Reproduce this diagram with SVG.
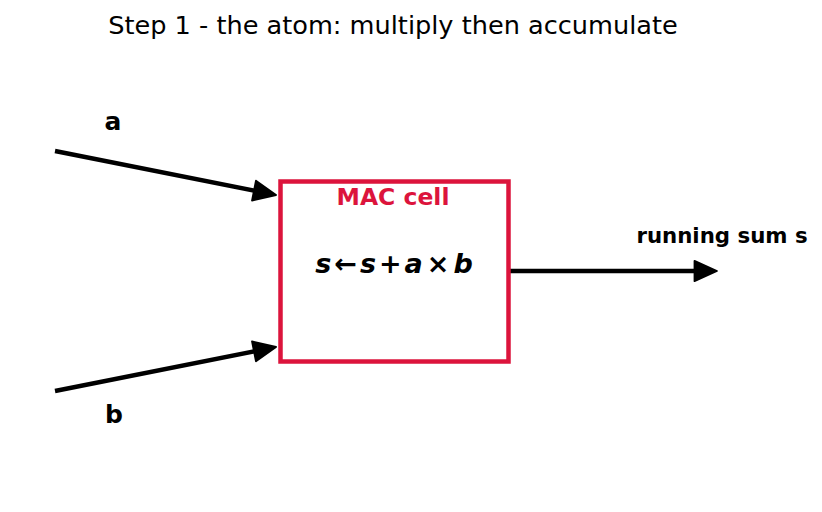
<svg xmlns="http://www.w3.org/2000/svg" width="822" height="512" viewBox="0 0 822 512">
<defs>
<marker id="ah" viewBox="-1 -1 12 11" refX="4" refY="4.5" markerWidth="6" markerHeight="5.5" orient="auto" markerUnits="strokeWidth">
<path d="M0,0 L10,4.5 L0,9 Z" fill="#000" stroke="#000" stroke-width="0.8" stroke-linejoin="round"/>
</marker>
<style>
.t{font-family:"DejaVu Sans",sans-serif}
.b{font-weight:bold}
.c{stroke:#000;stroke-width:4.5;fill:none;stroke-linecap:butt;marker-end:url(#ah)}
</style>
</defs>
<rect width="822" height="512" fill="#fff"/>
<text class="t" x="393" y="34" font-size="25.6" text-anchor="middle">Step 1 - the atom: multiply then accumulate</text>
<g id="connectors">
<path class="c" d="M55,151 L262.8,192.4"/>
<path class="c" d="M55,391 L262.8,349.6"/>
<path class="c" d="M510,271 L703.5,271"/>
</g>
<g id="mac">
<rect x="280.5" y="181.5" width="228" height="180" fill="none" stroke="#DC143C" stroke-width="4.5"/>
<text class="t b" x="393" y="205" font-size="23.5" fill="#DC143C" text-anchor="middle">MAC cell</text>
<text class="t b" x="394" y="273" font-size="27" font-style="italic" text-anchor="middle">s<tspan dx="3">←</tspan><tspan dx="3">s</tspan><tspan dx="3">+</tspan><tspan dx="3">a</tspan><tspan dx="4">×</tspan><tspan dx="4">b</tspan></text>
</g>
<g id="label-a"><text class="t b" x="113" y="130" font-size="25" text-anchor="middle">a</text></g>
<g id="label-b"><text class="t b" x="114" y="423" font-size="25" text-anchor="middle">b</text></g>
<g id="label-s"><text class="t b" x="722" y="243" font-size="21.3" text-anchor="middle">running sum s</text></g>
</svg>
